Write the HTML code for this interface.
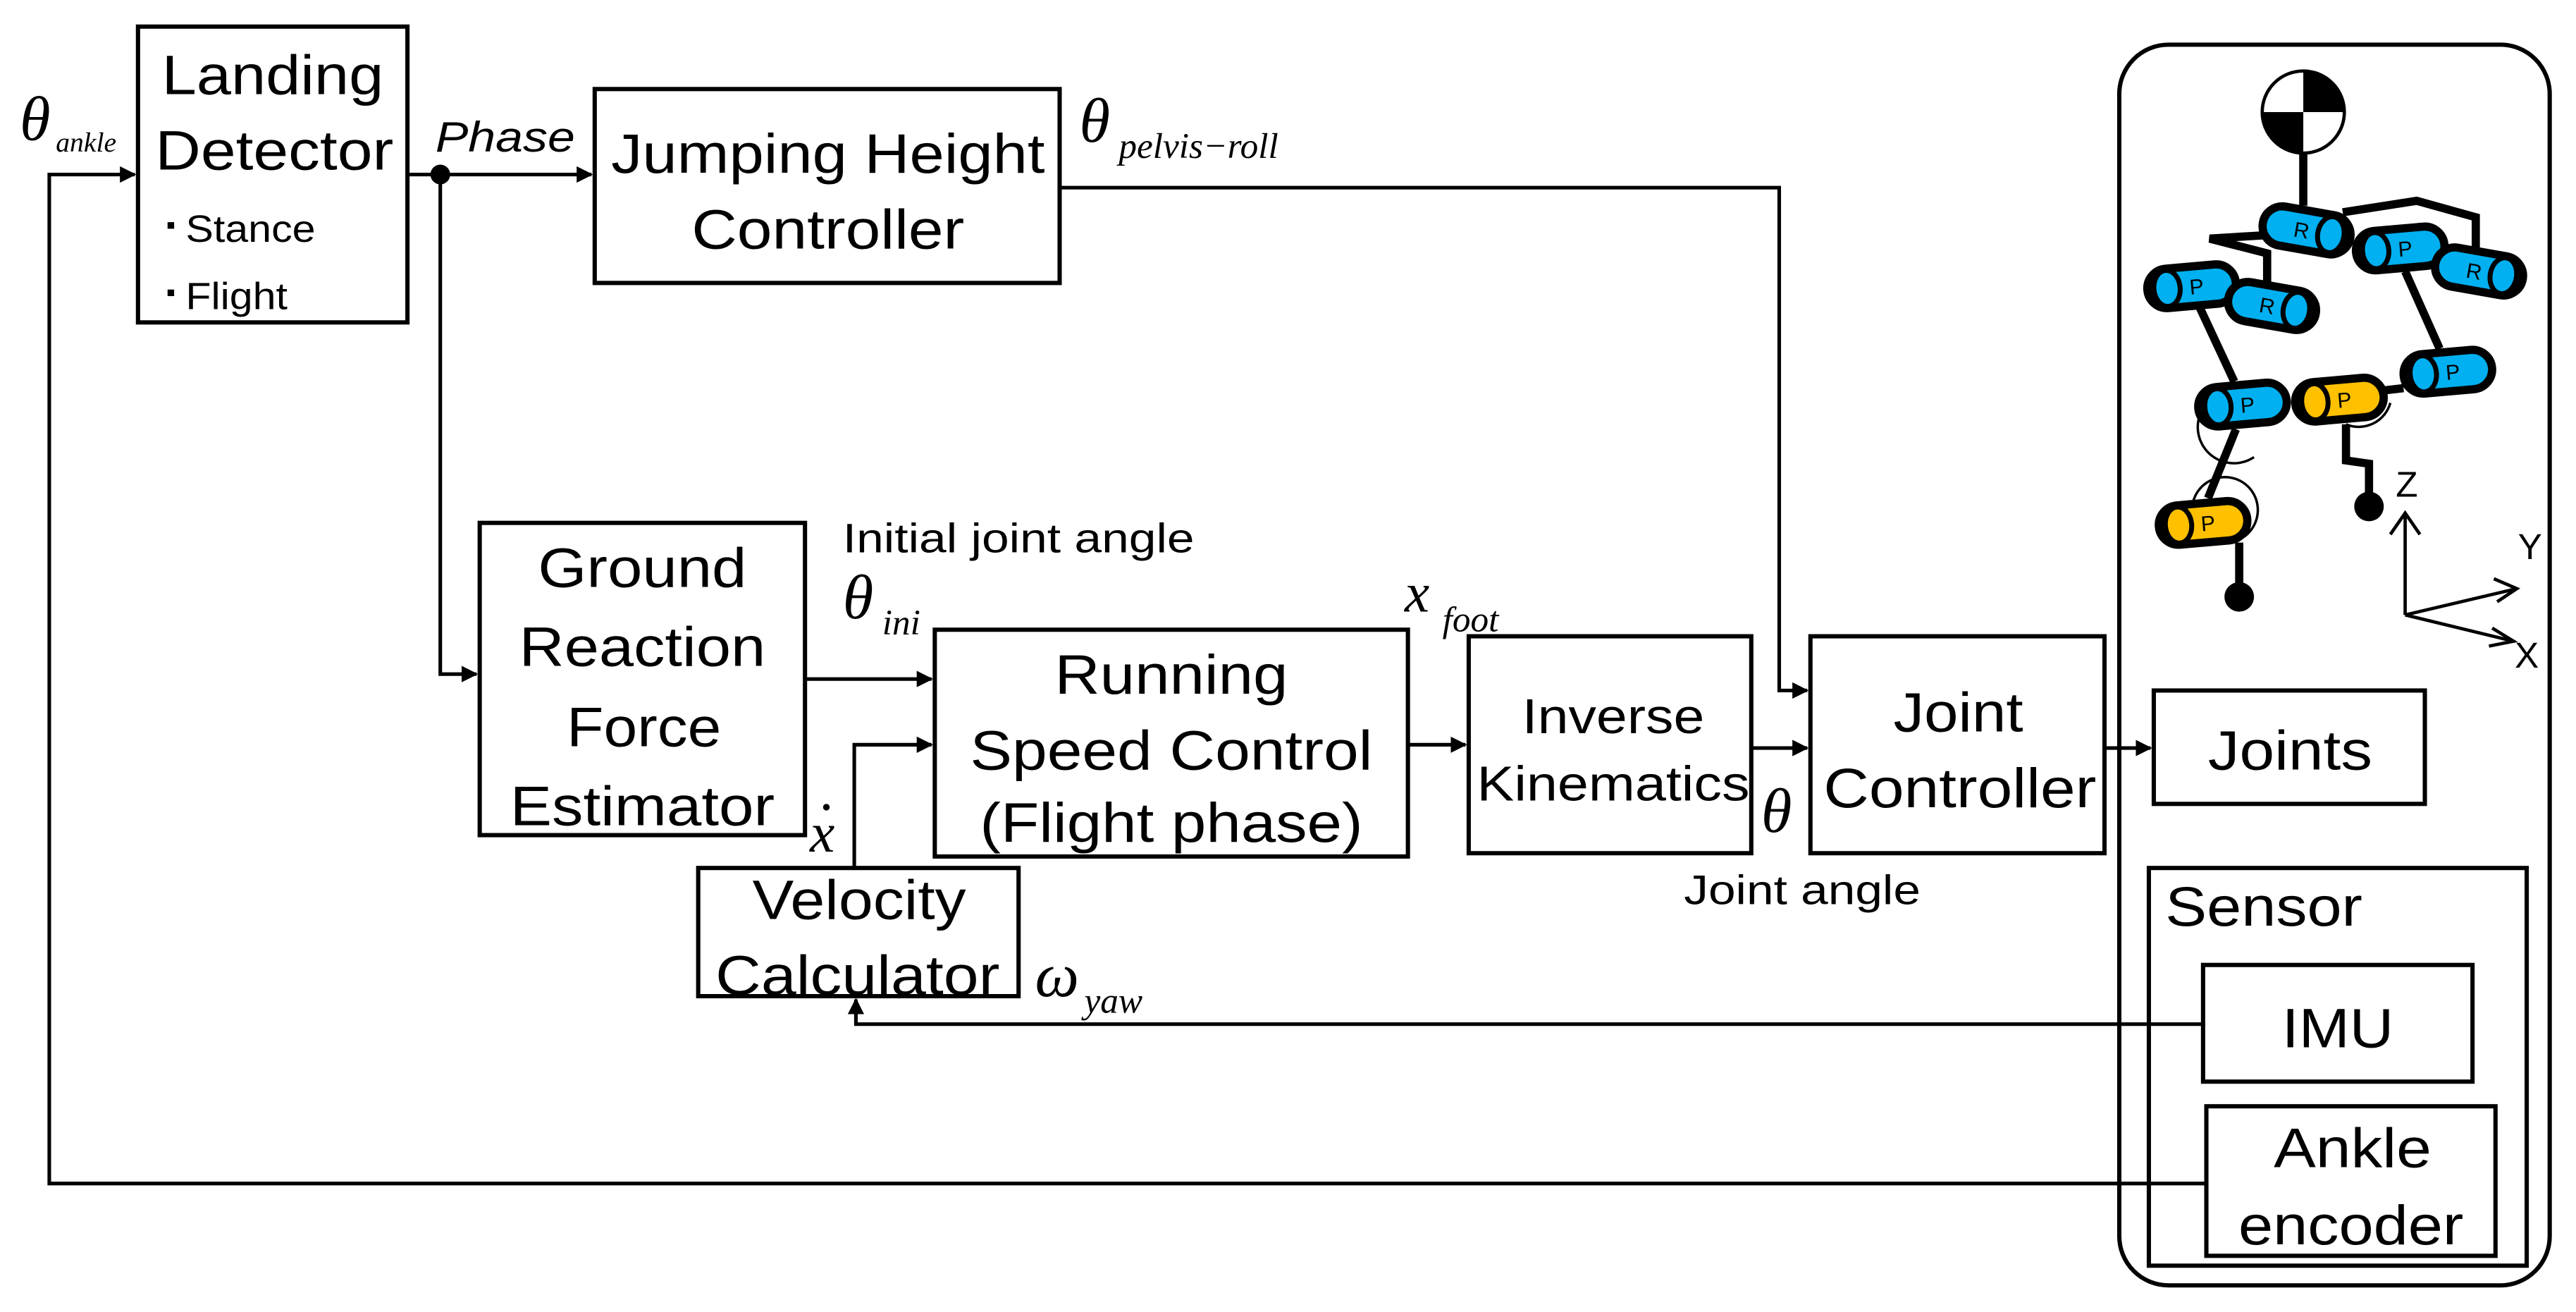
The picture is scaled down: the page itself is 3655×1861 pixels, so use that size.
<!DOCTYPE html>
<html><head><meta charset="utf-8"><style>
html,body{margin:0;padding:0;background:#fff;}
svg{display:block;}
text{font-family:"Liberation Sans",sans-serif;fill:#000;}
.m text{font-family:"Liberation Serif",serif;font-style:italic;}
</style></head><body>
<svg width="3655" height="1861" viewBox="0 0 1568 798" xmlns="http://www.w3.org/2000/svg">
<defs>
<marker id="a" markerWidth="10" markerHeight="10" refX="9" refY="5" orient="auto" markerUnits="userSpaceOnUse">
<path d="M0,0 L10,5 L0,10 z" fill="#000"/></marker>
<g id="cyl"><rect x="-27" y="-12" width="54" height="24" rx="12" fill="currentColor" stroke="#000" stroke-width="5"/></g>
</defs>
<g fill="none" stroke="#000" stroke-width="2.6">
<rect x="84" y="16" width="164" height="180"/>
<rect x="362" y="54" width="283" height="118"/>
<rect x="292" y="318" width="198" height="190"/>
<rect x="569" y="383" width="288" height="138"/>
<rect x="425" y="528" width="195" height="78"/>
<rect x="894" y="387" width="172" height="132"/>
<rect x="1102" y="387" width="179" height="132"/>
<rect x="1311" y="420" width="165" height="69"/>
<rect x="1290" y="27" width="262" height="755" rx="30"/>
<rect x="1308" y="528" width="230" height="242"/>
<rect x="1341" y="587" width="164" height="71"/>
<rect x="1343" y="673" width="176" height="91"/>
</g>
<g fill="none" stroke="#000" stroke-width="2.2">
<polyline points="1343,720 30,720 30,106 82,106" marker-end="url(#a)"/>
<line x1="248" y1="106" x2="360" y2="106" marker-end="url(#a)"/>
<polyline points="268,106 268,410 290,410" marker-end="url(#a)"/>
<polyline points="645,114 1083,114 1083,420 1100,420" marker-end="url(#a)"/>
<line x1="490" y1="413" x2="567" y2="413" marker-end="url(#a)"/>
<polyline points="520,528 520,453 567,453" marker-end="url(#a)"/>
<line x1="857" y1="453" x2="892" y2="453" marker-end="url(#a)"/>
<line x1="1066" y1="455" x2="1100" y2="455" marker-end="url(#a)"/>
<line x1="1281" y1="455" x2="1309" y2="455" marker-end="url(#a)"/>
<polyline points="1341,623 521,623 521,608" marker-end="url(#a)"/>
</g>
<circle cx="268" cy="106" r="6" fill="#000"/>
<g font-size="34" text-anchor="middle">
<text x="166" y="57" textLength="135" lengthAdjust="spacingAndGlyphs">Landing</text>
<text x="167" y="103" textLength="145" lengthAdjust="spacingAndGlyphs">Detector</text>
<text x="504" y="105" textLength="264" lengthAdjust="spacingAndGlyphs">Jumping Height</text>
<text x="504" y="151" textLength="166" lengthAdjust="spacingAndGlyphs">Controller</text>
<text x="391" y="357" textLength="127" lengthAdjust="spacingAndGlyphs">Ground</text>
<text x="391" y="405" textLength="150" lengthAdjust="spacingAndGlyphs">Reaction</text>
<text x="392" y="454" textLength="94" lengthAdjust="spacingAndGlyphs">Force</text>
<text x="391" y="502" textLength="161" lengthAdjust="spacingAndGlyphs">Estimator</text>
<text x="713" y="422" textLength="142" lengthAdjust="spacingAndGlyphs">Running</text>
<text x="713" y="468" textLength="245" lengthAdjust="spacingAndGlyphs">Speed Control</text>
<text x="713" y="512" textLength="233" lengthAdjust="spacingAndGlyphs">(Flight phase)</text>
<text x="523" y="559" textLength="130" lengthAdjust="spacingAndGlyphs">Velocity</text>
<text x="522" y="605" textLength="173" lengthAdjust="spacingAndGlyphs">Calculator</text>
<text x="1192" y="445" textLength="79" lengthAdjust="spacingAndGlyphs">Joint</text>
<text x="1193" y="491" textLength="166" lengthAdjust="spacingAndGlyphs">Controller</text>
<text x="1394" y="468" textLength="100" lengthAdjust="spacingAndGlyphs">Joints</text>
<text x="1378" y="563" textLength="120" lengthAdjust="spacingAndGlyphs">Sensor</text>
<text x="1423" y="637" textLength="68" lengthAdjust="spacingAndGlyphs">IMU</text>
<text x="1432" y="710" textLength="96" lengthAdjust="spacingAndGlyphs">Ankle</text>
<text x="1431" y="757" textLength="137" lengthAdjust="spacingAndGlyphs">encoder</text>
</g>
<g font-size="30" text-anchor="middle">
<text x="982" y="446" textLength="111" lengthAdjust="spacingAndGlyphs">Inverse</text>
<text x="982" y="487" textLength="166" lengthAdjust="spacingAndGlyphs">Kinematics</text>
</g>
<rect x="102" y="135" width="4" height="4" fill="#000"/>
<rect x="102" y="176" width="4" height="4" fill="#000"/>
<g font-size="23">
<text x="113" y="147" textLength="79" lengthAdjust="spacingAndGlyphs">Stance</text>
<text x="113" y="188" textLength="62" lengthAdjust="spacingAndGlyphs">Flight</text>
<text x="513" y="336" font-size="25" textLength="214" lengthAdjust="spacingAndGlyphs">Initial joint angle</text>
<text x="1025" y="550" font-size="25" textLength="144" lengthAdjust="spacingAndGlyphs">Joint angle</text>
</g>
<text x="265" y="92" font-size="26" font-style="italic" textLength="85" lengthAdjust="spacingAndGlyphs">Phase</text>
<g class="m">
<text x="12" y="85" font-size="38">θ</text><text x="34" y="92" font-size="17">ankle</text>
<text x="657" y="86" font-size="38">θ</text><text x="681" y="96" font-size="22">pelvis−roll</text>
<text x="513" y="376" font-size="38">θ</text><text x="537" y="386" font-size="22">ini</text>
<text x="855" y="372" font-size="34">x</text><text x="878" y="384" font-size="22">foot</text>
<text x="1072" y="506" font-size="38">θ</text>
<text x="493" y="518" font-size="34">x</text>
<text x="630" y="606" font-size="38">ω</text><text x="660" y="616" font-size="22">yaw</text>
</g>
<circle cx="503" cy="491" r="2" fill="#000"/>
<g stroke="#000" stroke-width="5" fill="none" stroke-linejoin="miter">
<line x1="1402" y1="93" x2="1402" y2="125"/>
<polyline points="1378,143 1345,145 1380,154 1380,172"/>
<polyline points="1426,129 1471,122 1507,132 1507,152"/>
<line x1="1339" y1="187" x2="1360" y2="232"/>
<line x1="1361" y1="261" x2="1344" y2="303"/>
<polyline points="1363,330 1363,355"/>
<line x1="1464" y1="165" x2="1485" y2="212"/>
<line x1="1446" y1="238" x2="1463" y2="236"/>
<polyline points="1428,258 1428,280 1442,282 1442,300"/>
</g>
<g stroke="#000" stroke-width="1.5" fill="none">
<path d="M1350,240 A22,22 0 1 0 1372,278"/>
<path d="M1335,305 A20,20 0 1 1 1352,330"/>
<path d="M1428,258 A20,20 0 0 0 1455,245"/>
<path d="M1478,218 A15,15 0 0 0 1463,233"/>
</g>
<circle cx="1402" cy="68" r="25" fill="#fff" stroke="#000" stroke-width="2"/>
<path d="M1402,68 L1402,43 A25,25 0 0 1 1427,68 Z M1402,68 L1402,93 A25,25 0 0 1 1377,68 Z" fill="#000"/>
<circle cx="1363" cy="363" r="9" fill="#000"/>
<circle cx="1442" cy="308" r="9" fill="#000"/>
<g font-size="13" text-anchor="middle">
<g transform="translate(1404,140) rotate(10)" color="#00b0f0"><use href="#cyl"/><ellipse cx="15" cy="0" rx="8" ry="11" fill="#00b0f0" stroke="#000" stroke-width="3"/><text x="-3" y="5">R</text></g>
<g transform="translate(1334,174) rotate(-5)" color="#00b0f0"><use href="#cyl"/><ellipse cx="-15" cy="0" rx="8" ry="11" fill="#00b0f0" stroke="#000" stroke-width="3"/><text x="3" y="5">P</text></g>
<g transform="translate(1383,186) rotate(10)" color="#00b0f0"><use href="#cyl"/><ellipse cx="15" cy="0" rx="8" ry="11" fill="#00b0f0" stroke="#000" stroke-width="3"/><text x="-3" y="5">R</text></g>
<g transform="translate(1461,151) rotate(-5)" color="#00b0f0"><use href="#cyl"/><ellipse cx="-15" cy="0" rx="8" ry="11" fill="#00b0f0" stroke="#000" stroke-width="3"/><text x="3" y="5">P</text></g>
<g transform="translate(1509,165) rotate(10)" color="#00b0f0"><use href="#cyl"/><ellipse cx="15" cy="0" rx="8" ry="11" fill="#00b0f0" stroke="#000" stroke-width="3"/><text x="-3" y="5">R</text></g>
<g transform="translate(1365,246) rotate(-5)" color="#00b0f0"><use href="#cyl"/><ellipse cx="-15" cy="0" rx="8" ry="11" fill="#00b0f0" stroke="#000" stroke-width="3"/><text x="3" y="5">P</text></g>
<g transform="translate(1490,226) rotate(-5)" color="#00b0f0"><use href="#cyl"/><ellipse cx="-15" cy="0" rx="8" ry="11" fill="#00b0f0" stroke="#000" stroke-width="3"/><text x="3" y="5">P</text></g>
<g transform="translate(1424,243) rotate(-5)" color="#ffc000"><use href="#cyl"/><ellipse cx="-15" cy="0" rx="8" ry="11" fill="#ffc000" stroke="#000" stroke-width="3"/><text x="3" y="5">P</text></g>
<g transform="translate(1341,318) rotate(-5)" color="#ffc000"><use href="#cyl"/><ellipse cx="-15" cy="0" rx="8" ry="11" fill="#ffc000" stroke="#000" stroke-width="3"/><text x="3" y="5">P</text></g>
</g>
<g stroke="#000" stroke-width="2" fill="none">
<line x1="1464" y1="374" x2="1464" y2="312"/><polyline points="1455,325 1464,312 1473,325"/>
<line x1="1464" y1="374" x2="1532" y2="358"/><polyline points="1518,352 1532,358 1520,366"/>
<line x1="1464" y1="374" x2="1530" y2="390"/><polyline points="1517,382 1530,390 1515,393"/>
</g>
<g font-size="22" text-anchor="middle">
<text x="1465" y="302">Z</text><text x="1540" y="340">Y</text><text x="1538" y="406">X</text>
</g>
</svg>
</body></html>
